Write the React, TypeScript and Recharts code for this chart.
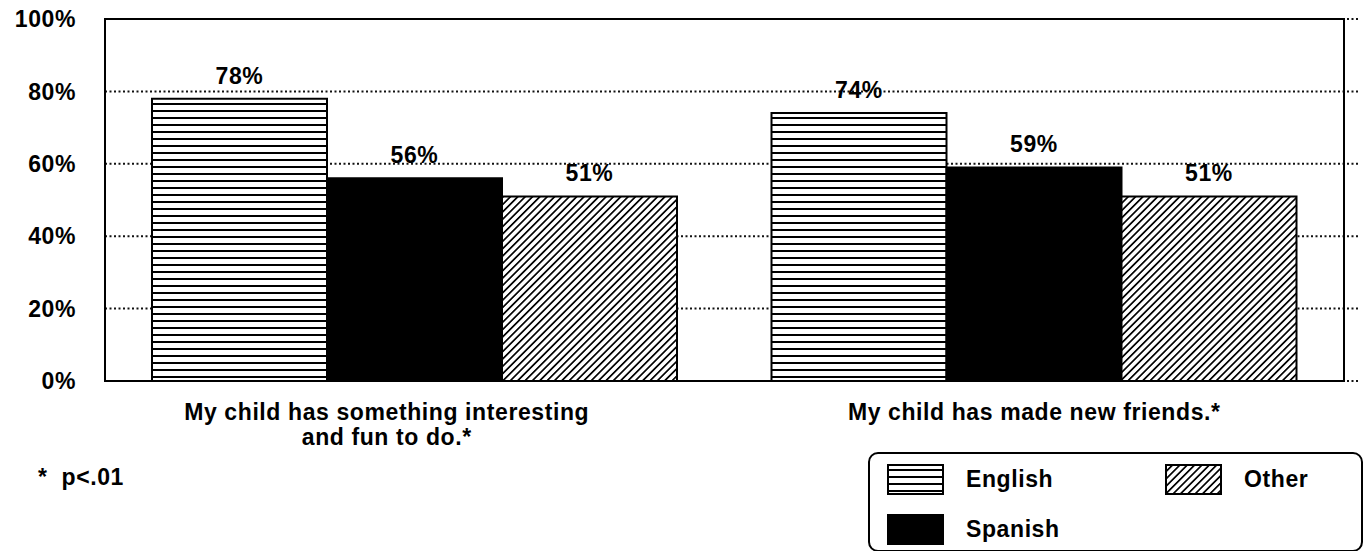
import React from 'react';
import {
    BarChart,
    Bar,
    XAxis,
    YAxis,
    CartesianGrid,
    LabelList,
    Legend,
    ReferenceArea,
} from 'recharts';

const categories = [
    ['My child has something interesting', 'and fun to do.*'],
    ['My child has made new friends.*'],
];
const englishValues = [78, 74];
const spanishValues = [56, 59];
const otherValues = [51, 51];
const seriesNames = ['English', 'Spanish', 'Other'];
const yTicks = [0, 20, 40, 60, 80, 100];
const footnote = '*  p<.01';

const data = categories.map((lines, i) => ({
    name: lines.join(' '),
    English: englishValues[i],
    Spanish: spanishValues[i],
    Other: otherValues[i],
}));

const FONT = '"Liberation Sans", Arial, Helvetica, sans-serif';
const FS = 23;
const fills: Record<string, string> = {
    English: 'url(#hatchH)',
    Spanish: '#000',
    Other: 'url(#hatchD)',
};

const Patterns = ({ suffix = '' }: { suffix?: string }) => (
    <defs>
        <pattern id={`hatchH${suffix}`} patternUnits="userSpaceOnUse" width="8" height="7">
            <rect width="8" height="7" fill="#fff" />
            <rect y="5" width="8" height="2" fill="#000" />
        </pattern>
        <pattern
            id={`hatchD${suffix}`}
            patternUnits="userSpaceOnUse"
            width="5.2"
            height="5.2"
            patternTransform="rotate(45)"
        >
            <rect width="5.2" height="5.2" fill="#fff" />
            <rect width="1.7" height="5.2" fill="#000" />
        </pattern>
    </defs>
);

// two-line category label under each group
const CategoryTick = (props: any) => {
    const { x, y, index } = props;
    const lines = categories[index] || [];
    const dx = index === 0 ? -28 : 0;
    return (
        <text
            x={x + dx}
            y={y}
            textAnchor="middle"
            fill="#000"
            fontSize={FS}
            fontWeight="bold"
            fontFamily={FONT}
        >
            {lines.map((line, i) => (
                <tspan key={i} x={x + dx} dy={i === 0 ? 39 : 25}>
                    {line}
                </tspan>
            ))}
        </text>
    );
};

const Swatch = ({ name }: { name: string }) => {
    const fill =
        name === 'English' ? 'url(#hatchHL)' : name === 'Other' ? 'url(#hatchDL)' : '#000';
    return (
        <svg width={57} height={31} style={{ display: 'block' }}>
            <Patterns suffix="L" />
            <rect x={1} y={1} width={55} height={29} fill={fill} stroke="#000" strokeWidth={2} />
        </svg>
    );
};

const LegendBox = () => {
    const order = ['English', 'Spanish', 'Other'].filter((n) => seriesNames.includes(n));
    return (
        <div
            style={{
                boxSizing: 'border-box',
                width: 495,
                height: 100,
                border: '2px solid #000',
                borderRadius: 10,
                paddingLeft: 17,
                display: 'grid',
                gridTemplateColumns: '278px 200px',
                gridTemplateRows: '50px 50px',
                gridAutoFlow: 'column',
                fontFamily: FONT,
                fontWeight: 'bold',
                fontSize: FS,
                letterSpacing: 0.6,
            }}
        >
            {order.map((n) => (
                <div key={n} style={{ display: 'flex', alignItems: 'center', gap: 22 }}>
                    <Swatch name={n} />
                    <span>{n}</span>
                </div>
            ))}
        </div>
    );
};

const App = () => {
    return (
        <div
            style={{
                position: 'absolute',
                left: 0,
                top: 0,
                width: 1363,
                height: 551,
                background: '#fff',
                letterSpacing: 0.6,
                fontFamily: FONT,
            }}
        >
            <BarChart
                width={1363}
                height={551}
                data={data}
                margin={{ top: 19, right: 5, left: 0, bottom: 100 }}
                barGap={0}
                barSize={175}
            >
                <Patterns />
                <CartesianGrid
                    vertical={false}
                    stroke="#111"
                    strokeWidth={2}
                    strokeDasharray="2 2.5"
                />
                <ReferenceArea
                    y1={0}
                    y2={100}
                    fill="none"
                    stroke="#000"
                    strokeWidth={2}
                    fillOpacity={0}
                    ifOverflow="visible"
                />
                <XAxis
                    dataKey="name"
                    height={70}
                    axisLine={false}
                    tickLine={false}
                    tickSize={0}
                    tickMargin={0}
                    interval={0}
                    padding={{ left: 0, right: 14 }}
                    tick={<CategoryTick />}
                />
                <YAxis
                    width={105}
                    domain={[0, 100]}
                    ticks={yTicks}
                    axisLine={false}
                    tickLine={false}
                    tickSize={0}
                    tickMargin={29}
                    tickFormatter={(v) => `${v}%`}
                    tick={{ fill: '#000', fontSize: FS, fontWeight: 'bold', fontFamily: FONT }}
                />
                {seriesNames.map((n) => (
                    <Bar
                        key={n}
                        dataKey={n}
                        name={n}
                        fill={fills[n]}
                        stroke="#000"
                        strokeWidth={2}
                        isAnimationActive={false}
                    >
                        <LabelList
                            dataKey={n}
                            position="top"
                            offset={15}
                            formatter={(v: any) => `${v}%`}
                            fill="#000"
                            fontSize={FS}
                            fontWeight="bold"
                            fontFamily={FONT}
                        />
                    </Bar>
                ))}
                <Legend
                    layout="vertical"
                    align="center"
                    verticalAlign="middle"
                    width={495}
                    wrapperStyle={{ left: 868, top: 452, width: 495 }}
                    content={() => <LegendBox />}
                />
            </BarChart>
            <div
                style={{
                    position: 'absolute',
                    left: 38,
                    top: 464,
                    fontSize: FS,
                    fontWeight: 'bold',
                    whiteSpace: 'pre',
                    lineHeight: '26px',
                }}
            >
                {footnote}
            </div>
        </div>
    );
};

export default App;
